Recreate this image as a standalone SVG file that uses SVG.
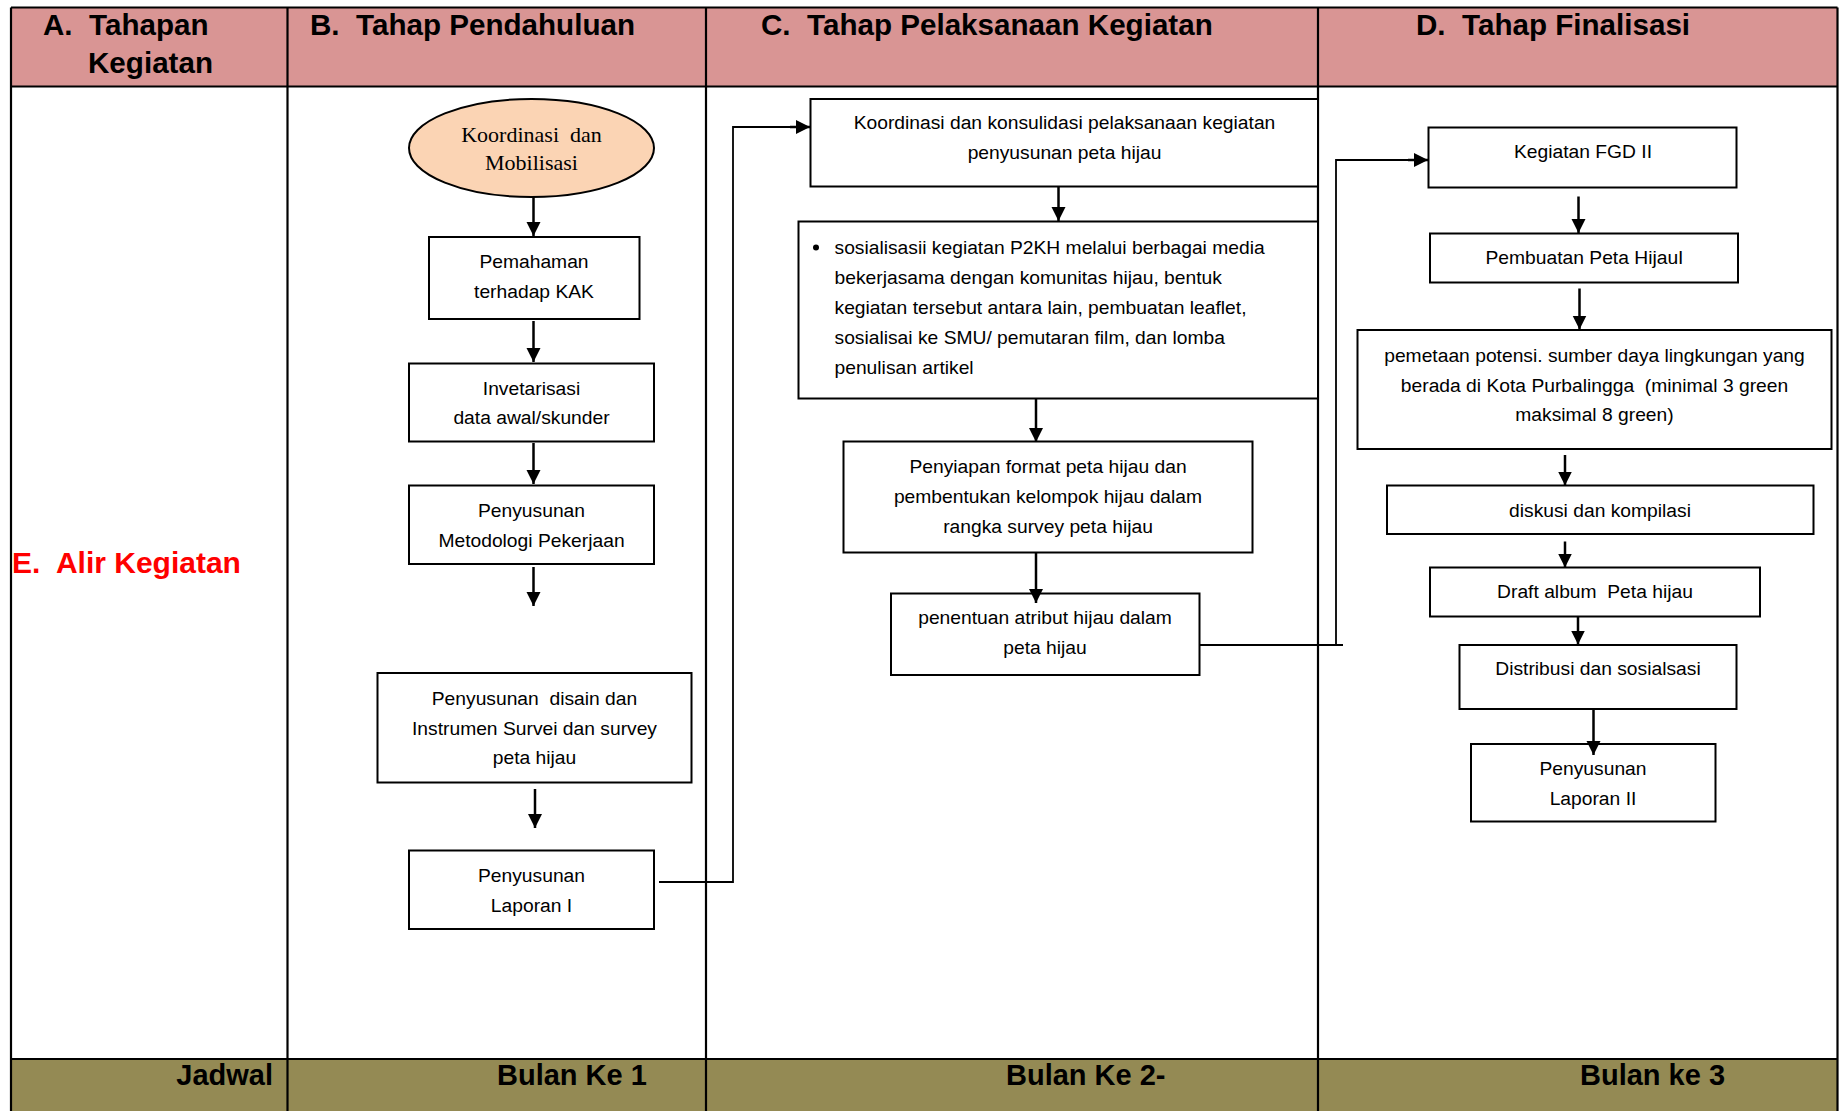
<svg xmlns="http://www.w3.org/2000/svg" width="1839" height="1111" viewBox="0 0 1839 1111" xml:space="preserve">
<defs>
<marker id="ah" markerUnits="userSpaceOnUse" markerWidth="15" markerHeight="15" refX="14" refY="7" orient="auto">
<path d="M0,0 L14,7 L0,14 z" fill="#000"/>
</marker>
<style>
text{white-space:pre;}
.hd{font-family:"Liberation Sans",Arial,sans-serif;font-weight:bold;font-size:29.6px;fill:#000;}
.ft{font-family:"Liberation Sans",Arial,sans-serif;font-weight:bold;font-size:29px;fill:#000;}
.t{font-family:"Liberation Sans",Arial,sans-serif;font-size:19.25px;fill:#000;text-anchor:middle;}
.tl{font-family:"Liberation Sans",Arial,sans-serif;font-size:19.25px;fill:#000;}
.sf{font-family:"Liberation Serif","Times New Roman",serif;font-size:22px;fill:#000;text-anchor:middle;}
.box{fill:#fff;stroke:#000;stroke-width:2;}
.grid{stroke:#000;stroke-width:2.2;fill:none;}
.arr{stroke:#000;stroke-width:2.5;fill:none;marker-end:url(#ah);}
.con{stroke:#000;stroke-width:1.8;fill:none;}
</style>
</defs>
<rect width="1839" height="1111" fill="#fff"/>
<g id="table">
<rect x="11" y="7.5" width="1826.5" height="79" fill="#D99594"/>
<rect x="11" y="1059" width="1826.5" height="52" fill="#948A54"/>
<line class="grid" x1="11" y1="7.5" x2="1837.5" y2="7.5"/>
<line class="grid" x1="11" y1="86.5" x2="1837.5" y2="86.5"/>
<line class="grid" x1="11" y1="1059" x2="1837.5" y2="1059"/>
<line class="grid" x1="11" y1="7.5" x2="11" y2="1111"/>
<line class="grid" x1="287.5" y1="7.5" x2="287.5" y2="1111"/>
<line class="grid" x1="706" y1="7.5" x2="706" y2="1111"/>
<line class="grid" x1="1318" y1="7.5" x2="1318" y2="1111"/>
<line class="grid" x1="1837.5" y1="7.5" x2="1837.5" y2="1111"/>
<text class="hd" x="43" y="35">A.  Tahapan</text>
<text class="hd" x="88" y="73">Kegiatan</text>
<text class="hd" x="310" y="35">B.  Tahap Pendahuluan</text>
<text class="hd" x="761" y="35">C.  Tahap Pelaksanaan Kegiatan</text>
<text class="hd" x="1416" y="35">D.  Tahap Finalisasi</text>
<text x="12" y="573" style="font-family:'Liberation Sans',Arial,sans-serif;font-weight:bold;font-size:30px;fill:#FF0000;">E.  Alir Kegiatan</text>
<text class="ft" x="273" y="1085" text-anchor="end">Jadwal</text>
<text class="ft" x="497" y="1085">Bulan Ke 1</text>
<text class="ft" x="1006" y="1085">Bulan Ke 2-</text>
<text class="ft" x="1580" y="1085">Bulan ke 3</text>
</g>
<g id="n-koordinasi-mobilisasi">
<ellipse cx="531.5" cy="148" rx="122.5" ry="49" fill="#FBD4B4" stroke="#000" stroke-width="2"/>
<text class="sf" x="531.5" y="141.5">Koordinasi  dan</text>
<text class="sf" x="531.5" y="169.5">Mobilisasi</text>
</g>
<g id="n-pemahaman">
<rect class="box" x="429" y="237" width="210.5" height="82"/>
<text class="t" x="534" y="268">Pemahaman</text>
<text class="t" x="534" y="297.5">terhadap KAK</text>
</g>
<g id="n-invetarisasi">
<rect class="box" x="409" y="363.5" width="245" height="78"/>
<text class="t" x="531.5" y="394.5">Invetarisasi</text>
<text class="t" x="531.5" y="423.5">data awal/skunder</text>
</g>
<g id="n-metodologi">
<rect class="box" x="409" y="485.5" width="245" height="78.5"/>
<text class="t" x="531.5" y="516.5">Penyusunan</text>
<text class="t" x="531.5" y="546.5">Metodologi Pekerjaan</text>
</g>
<g id="n-disain">
<rect class="box" x="377.5" y="673" width="314" height="109.5"/>
<text class="t" x="534.5" y="705">Penyusunan  disain dan</text>
<text class="t" x="534.5" y="735">Instrumen Survei dan survey</text>
<text class="t" x="534.5" y="764">peta hijau</text>
</g>
<g id="n-laporan1">
<rect class="box" x="409" y="850.5" width="245" height="78.5"/>
<text class="t" x="531.5" y="881.5">Penyusunan</text>
<text class="t" x="531.5" y="911.5">Laporan I</text>
</g>
<g id="n-konsolidasi">
<rect class="box" x="810.5" y="99" width="507.5" height="87.5"/>
<text class="t" x="1064.5" y="129">Koordinasi dan konsulidasi pelaksanaan kegiatan</text>
<text class="t" x="1064.5" y="159">penyusunan peta hijau</text>
</g>
<g id="n-sosialisasi">
<rect class="box" x="798.5" y="221.5" width="519.5" height="177"/>
<circle cx="816" cy="247.5" r="3" fill="#000"/>
<text class="tl" x="834.5" y="253.5">sosialisasii kegiatan P2KH melalui berbagai media</text>
<text class="tl" x="834.5" y="283.5">bekerjasama dengan komunitas hijau, bentuk</text>
<text class="tl" x="834.5" y="313.5">kegiatan tersebut antara lain, pembuatan leaflet,</text>
<text class="tl" x="834.5" y="343.5">sosialisai ke SMU/ pemutaran film, dan lomba</text>
<text class="tl" x="834.5" y="373.5">penulisan artikel</text>
</g>
<g id="n-penyiapan">
<rect class="box" x="843.5" y="441.5" width="409" height="111"/>
<text class="t" x="1048" y="473">Penyiapan format peta hijau dan</text>
<text class="t" x="1048" y="503">pembentukan kelompok hijau dalam</text>
<text class="t" x="1048" y="533">rangka survey peta hijau</text>
</g>
<g id="n-penentuan">
<rect class="box" x="891" y="593.5" width="308.5" height="81.5"/>
<text class="t" x="1045" y="624">penentuan atribut hijau dalam</text>
<text class="t" x="1045" y="653.5">peta hijau</text>
</g>
<g id="n-fgd2">
<rect class="box" x="1428.5" y="127.5" width="308" height="60"/>
<text class="t" x="1583" y="157.5">Kegiatan FGD II</text>
</g>
<g id="n-pembuatan">
<rect class="box" x="1430" y="233.5" width="308" height="49"/>
<text class="t" x="1584.5" y="264">Pembuatan Peta HijauI</text>
</g>
<g id="n-pemetaan">
<rect class="box" x="1357.5" y="330" width="474" height="119"/>
<text class="t" x="1594.5" y="361.5">pemetaan potensi. sumber daya lingkungan yang</text>
<text class="t" x="1594.5" y="391.5">berada di Kota Purbalingga  (minimal 3 green</text>
<text class="t" x="1594.5" y="421">maksimal 8 green)</text>
</g>
<g id="n-diskusi">
<rect class="box" x="1387" y="485.5" width="426.5" height="48.5"/>
<text class="t" x="1600" y="516.5">diskusi dan kompilasi</text>
</g>
<g id="n-draft">
<rect class="box" x="1430" y="567.5" width="330" height="49"/>
<text class="t" x="1595" y="598">Draft album  Peta hijau</text>
</g>
<g id="n-distribusi">
<rect class="box" x="1459.5" y="645" width="277" height="64"/>
<text class="t" x="1598" y="675">Distribusi dan sosialsasi</text>
</g>
<g id="n-laporan2">
<rect class="box" x="1471" y="744" width="244.5" height="77.5"/>
<text class="t" x="1593" y="775">Penyusunan</text>
<text class="t" x="1593" y="805">Laporan II</text>
</g>
<g id="connectors">
<line class="arr" x1="533.5" y1="197" x2="533.5" y2="236"/>
<line class="arr" x1="533.5" y1="321" x2="533.5" y2="362"/>
<line class="arr" x1="533.5" y1="443" x2="533.5" y2="484"/>
<line class="arr" x1="533.5" y1="567" x2="533.5" y2="606"/>
<line class="arr" x1="535" y1="789" x2="535" y2="828"/>
<polyline class="con" points="659,882 733,882 733,127 796,127"/>
<line class="arr" x1="790" y1="127" x2="810" y2="127"/>
<line class="arr" x1="1058.5" y1="186.5" x2="1058.5" y2="221"/>
<line class="arr" x1="1036" y1="398.5" x2="1036" y2="442"/>
<line class="arr" x1="1036" y1="552.5" x2="1036" y2="603"/>
<polyline class="con" points="1199.5,645 1343,645"/>
<polyline class="con" points="1336,645 1336,160 1414,160"/>
<line class="arr" x1="1408" y1="160" x2="1428" y2="160"/>
<line class="arr" x1="1578.5" y1="196.5" x2="1578.5" y2="233"/>
<line class="arr" x1="1579.5" y1="288.5" x2="1579.5" y2="329.5"/>
<line class="arr" x1="1565" y1="455" x2="1565" y2="485.5"/>
<line class="arr" x1="1565" y1="541.5" x2="1565" y2="567.5"/>
<line class="arr" x1="1578" y1="616.5" x2="1578" y2="644.5"/>
<line class="arr" x1="1593.5" y1="709" x2="1593.5" y2="755"/>
</g>
</svg>
